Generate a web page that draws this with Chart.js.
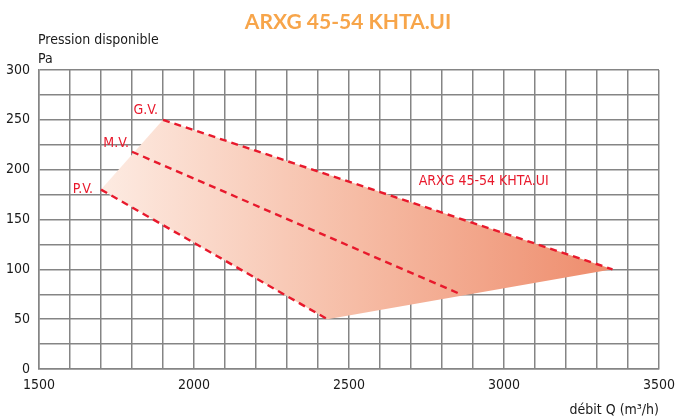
<!DOCTYPE html>
<html>
<head>
<meta charset="utf-8">
<script src="https://cdn.jsdelivr.net/npm/chart.js@4.4.0/dist/chart.umd.min.js"></script>
<style>
  html, body { margin: 0; padding: 0; background: #fff; }
</style>
</head>
<body>
<canvas id="chart" width="679" height="420"></canvas>
<script>
// Chart data
const chartTitle = 'ARXG 45-54 KHTA.UI';
const speedLabels = ['G.V.', 'M.V.', 'P.V.'];
const gvFlow = [1900, 3350];
const gvPressure = [250, 100];
const mvFlow = [1800, 2860];
const mvPressure = [218, 75];
const pvFlow = [1700, 2430];
const pvPressure = [180, 50];
// operating envelope (closed shape)
const envelopeFlow = [1700, 1900, 3350, 2430, 1700];
const envelopePressure = [180, 250, 100, 50, 180];
const xTicks = [1500, 2000, 2500, 3000, 3500];
const yTicks = [0, 50, 100, 150, 200, 250, 300];

const FONT = "'DejaVu Sans Condensed', sans-serif";
const RED = '#e8192c';
const GRID = '#858585';

const toPoints = (xs, ys) => xs.map((x, i) => ({ x: x, y: ys[i] }));

const lineStyle = {
  showLine: true,
  fill: false,
  borderColor: RED,
  borderWidth: 2.4,
  borderDash: [7, 5],
  pointRadius: 0,
  order: 1
};

// Texts on the chart
const labelsPlugin = {
  id: 'labels',
  afterDraw(chart) {
    const c = chart.ctx;
    const xs = chart.scales.x, ys = chart.scales.y;
    c.save();
    c.textBaseline = 'middle';

    c.fillStyle = '#f7a54a';
    c.font = "bold 21px Lato, sans-serif";
    c.textAlign = 'center';
    c.fillText(chartTitle, 348, 22);

    c.fillStyle = '#1a1a1a';
    c.font = '14px ' + FONT;
    c.textAlign = 'left';
    c.fillText('Pression disponible', 38, 40);
    c.fillText('Pa', 38, 59);
    c.textAlign = 'right';
    c.fillText('débit Q (m³/h)', 659, 410);

    c.fillStyle = RED;
    c.font = '14px ' + FONT;
    const starts = [[gvFlow[0], gvPressure[0], -5, -9], [mvFlow[0], mvPressure[0], -3, -8], [pvFlow[0], pvPressure[0], -8, 0]];
    starts.forEach((s, i) => {
      c.fillText(speedLabels[i], xs.getPixelForValue(s[0]) + s[2], ys.getPixelForValue(s[1]) + s[3]);
    });
    c.textAlign = 'left';
    c.fillText(chartTitle, xs.getPixelForValue(2725), ys.getPixelForValue(188));
    c.restore();
  }
};

const ctx = document.getElementById('chart').getContext('2d');
new Chart(ctx, {
  type: 'scatter',
  data: {
    datasets: [
      {
        label: 'envelope',
        data: toPoints(envelopeFlow, envelopePressure),
        showLine: true,
        fill: 'shape',
        borderWidth: 0,
        pointRadius: 0,
        order: 2,
        backgroundColor: (c) => {
          const chart = c.chart;
          if (!chart.chartArea) return 'rgba(240,150,120,0.5)';
          const xs = chart.scales.x;
          const g = chart.ctx.createLinearGradient(xs.getPixelForValue(1700), 0, xs.getPixelForValue(3350), 0);
          g.addColorStop(0, '#fdebe2');
          g.addColorStop(0.5, '#f6bca5');
          g.addColorStop(1, '#ee8c6c');
          return g;
        }
      },
      { label: 'G.V.', data: toPoints(gvFlow, gvPressure), ...lineStyle },
      { label: 'M.V.', data: toPoints(mvFlow, mvPressure), ...lineStyle },
      { label: 'P.V.', data: toPoints(pvFlow, pvPressure), ...lineStyle }
    ]
  },
  options: {
    responsive: false,
    animation: false,
    layout: { padding: { top: 70, right: 20, bottom: 0, left: 0 } },
    plugins: { legend: { display: false }, tooltip: { enabled: false } },
    scales: {
      x: {
        type: 'linear', min: 1500, max: 3500,
        afterFit: s => { s.height = 51; s.paddingLeft = 0; s.paddingRight = 0; },
        grid: { color: GRID, lineWidth: 1.5, drawTicks: false },
        border: { color: GRID, width: 1.5 },
        ticks: {
          stepSize: 100, autoSkip: false, maxRotation: 0, padding: 8,
          color: '#1a1a1a', font: { family: FONT, size: 14 },
          callback: v => xTicks.includes(v) ? v : ''
        }
      },
      y: {
        type: 'linear', min: 0, max: 300,
        afterFit: s => { s.width = 39; s.paddingTop = 0; s.paddingBottom = 0; },
        grid: { color: GRID, lineWidth: 1.5, drawTicks: false },
        border: { color: GRID, width: 1.5 },
        ticks: {
          stepSize: 25, autoSkip: false, padding: 9,
          color: '#1a1a1a', font: { family: FONT, size: 14 },
          callback: v => yTicks.includes(v) ? v : ''
        }
      }
    }
  },
  plugins: [labelsPlugin]
});
</script>
</body>
</html>
